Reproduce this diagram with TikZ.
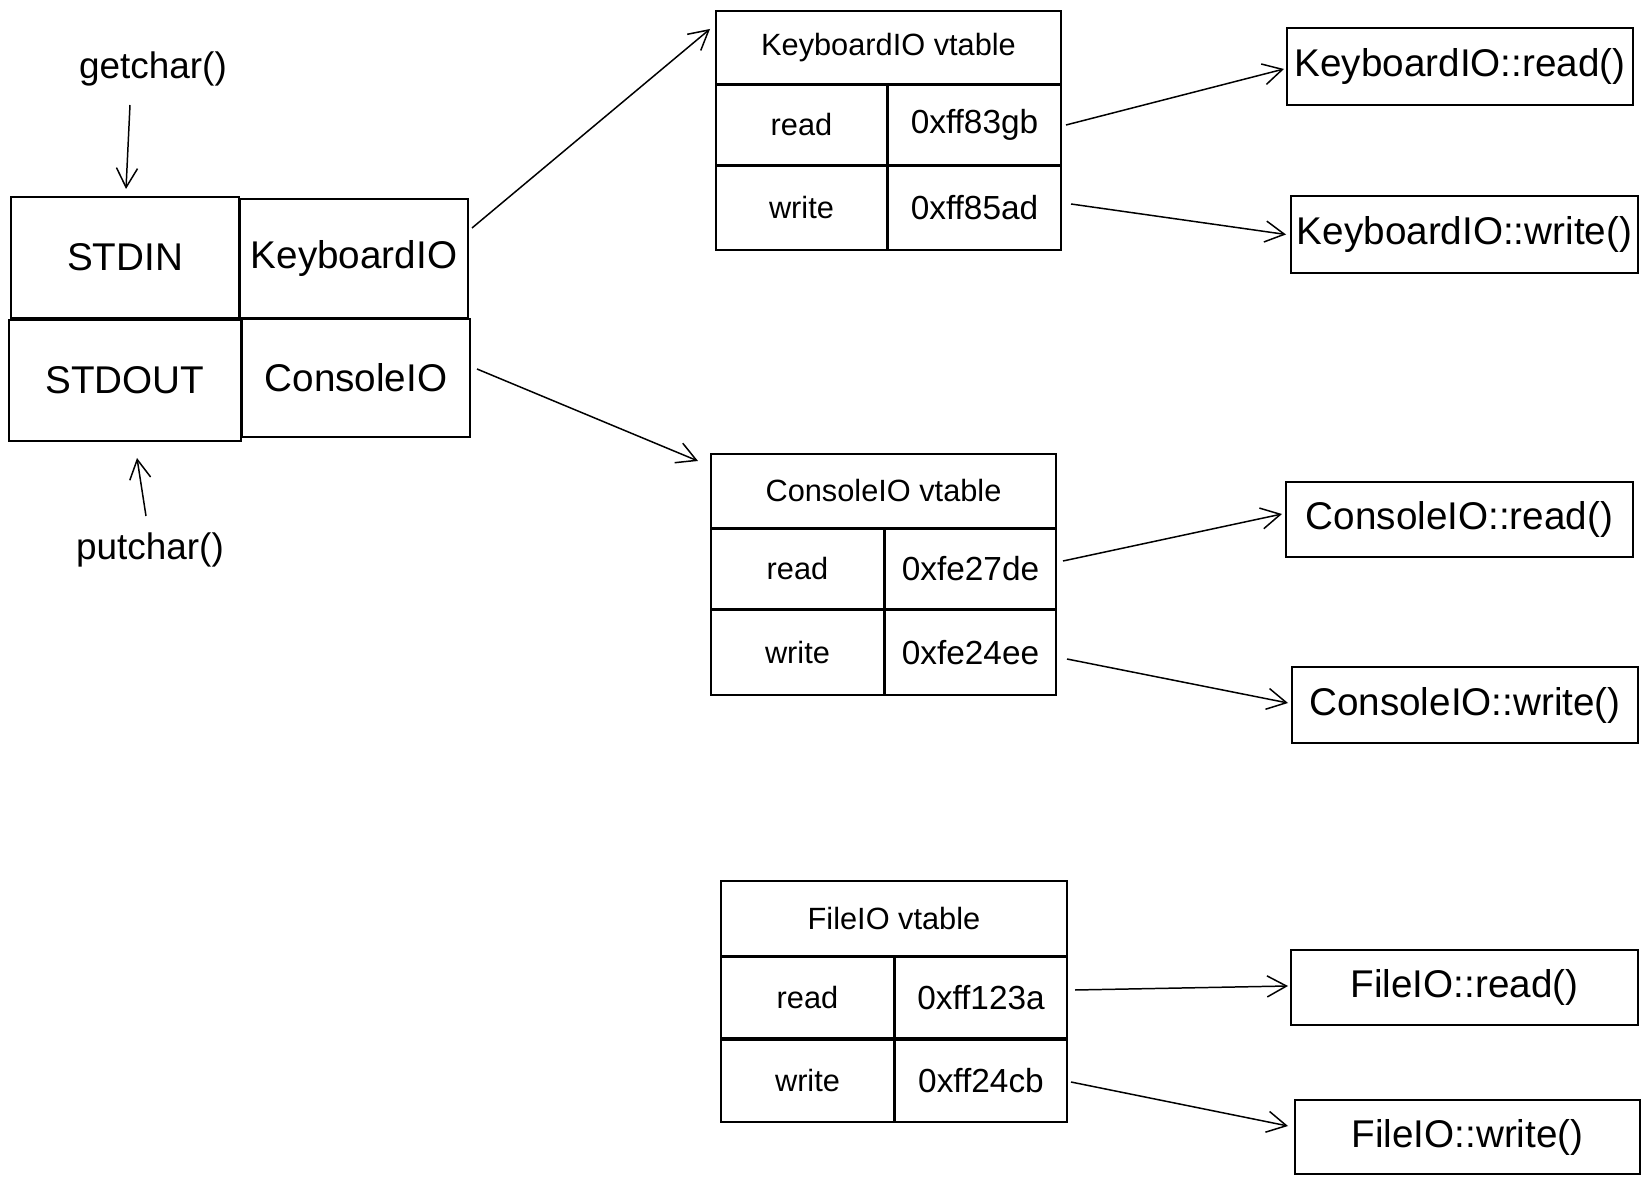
\documentclass[tikz,border=0pt]{standalone}
\usepackage{fontspec}
\setmainfont{Liberation Sans}
\usetikzlibrary{arrows.meta,calc}
\newcommand\bx[7]{%
  \node[#7, minimum width={(#4-#2)*0.02cm}, minimum height={(#5-#3)*0.02cm}]
    (#1) at ({(#2+#4)/2},{(#3+#5)/2}) {#6};}
\tikzset{
  cell/.style={draw, line width=1.1pt, inner sep=0pt, outer sep=0pt},
  big/.style={cell, font=\fontsize{22}{26}\selectfont},
  small/.style={cell, font=\fontsize{17.5}{21}\selectfont},
  addr/.style={cell, font=\fontsize{19}{23}\selectfont},
  lbl/.style={inner sep=0pt, font=\fontsize{21}{25}\selectfont},
  conn/.style={line width=0.85pt, -{Straight Barb[length=11pt,width=12pt,line width=0.85pt]}}
}
\begin{document}
\begin{tikzpicture}[x=0.02cm, y=-0.02cm]
\useasboundingbox (0,0) rectangle (1650,1185);
% left table
\bx{stdin}{11}{197}{239}{318}{STDIN}{big}
\bx{kio}{240}{199}{468}{318}{KeyboardIO}{big}
\bx{stdout}{9}{320}{241}{441}{STDOUT}{big}
\bx{cio}{242}{319}{470}{437}{ConsoleIO}{big}
\node[lbl] (getc) at (153,69) {getchar()};
\node[lbl] (putc) at (150,550) {putchar()};
% KeyboardIO vtable
\bx{kvt}{716}{11}{1061}{84}{KeyboardIO vtable}{small}
\bx{kr}{716}{85}{887}{165}{read}{small}
\bx{kra}{888}{85}{1061}{165}{0xff83gb}{addr}
\bx{kw}{716}{166}{887}{250}{write}{small}
\bx{kwa}{888}{166}{1061}{250}{0xff85ad}{addr}
% ConsoleIO vtable
\bx{cvt}{711}{454}{1056}{528}{ConsoleIO vtable}{small}
\bx{cr}{711}{529}{884}{609}{read}{small}
\bx{cra}{885}{529}{1056}{609}{0xfe27de}{addr}
\bx{cw}{711}{610}{884}{695}{write}{small}
\bx{cwa}{885}{610}{1056}{695}{0xfe24ee}{addr}
% FileIO vtable
\bx{fvt}{721}{881}{1067}{956}{FileIO vtable}{small}
\bx{fr}{721}{957}{894}{1038}{read}{small}
\bx{fra}{895}{957}{1067}{1038}{0xff123a}{addr}
\bx{fw}{721}{1040}{894}{1122}{write}{small}
\bx{fwa}{895}{1040}{1067}{1122}{0xff24cb}{addr}
% function boxes
\bx{kfr}{1287}{28}{1633}{105}{KeyboardIO::read()}{big}
\bx{kfw}{1291}{196}{1638}{273}{KeyboardIO::write()}{big}
\bx{cfr}{1286}{482}{1633}{557}{ConsoleIO::read()}{big}
\bx{cfw}{1292}{667}{1638}{743}{ConsoleIO::write()}{big}
\bx{ffr}{1291}{950}{1638}{1025}{FileIO::read()}{big}
\bx{ffw}{1295}{1100}{1640}{1174}{FileIO::write()}{big}
% connectors
\draw[conn] ($(getc)+(-23,36)$) -- ($(stdin.north)+(1,-8)$);
\draw[conn] ($(putc)+(-4,-34)$) -- ($(stdout.south)+(12,17)$);
\draw[conn] ($(kio.north east)+(4,29)$) -- ($(kvt.north west)+(-6,18)$);
\draw[conn] ($(cio.north east)+(7,50)$) -- ($(cvt.north west)+(-13,7)$);
\draw[conn] ($(kra.east)+(5,0)$) -- ($(kfr.west)+(-3,2.5)$);
\draw[conn] ($(kwa.east)+(10,-4)$) -- ($(kfw.west)+(-5,0)$);
\draw[conn] ($(cra.east)+(7,-8)$) -- ($(cfr.west)+(-4,-5.5)$);
\draw[conn] ($(cwa.east)+(11,6.5)$) -- ($(cfw.west)+(-4,-2)$);
\draw[conn] ($(fra.east)+(8,-7.5)$) -- ($(ffr.west)+(-3,-1.5)$);
\draw[conn] ($(fwa.east)+(4,1)$) -- ($(ffw.west)+(-7,-11)$);
\end{tikzpicture}
\end{document}
